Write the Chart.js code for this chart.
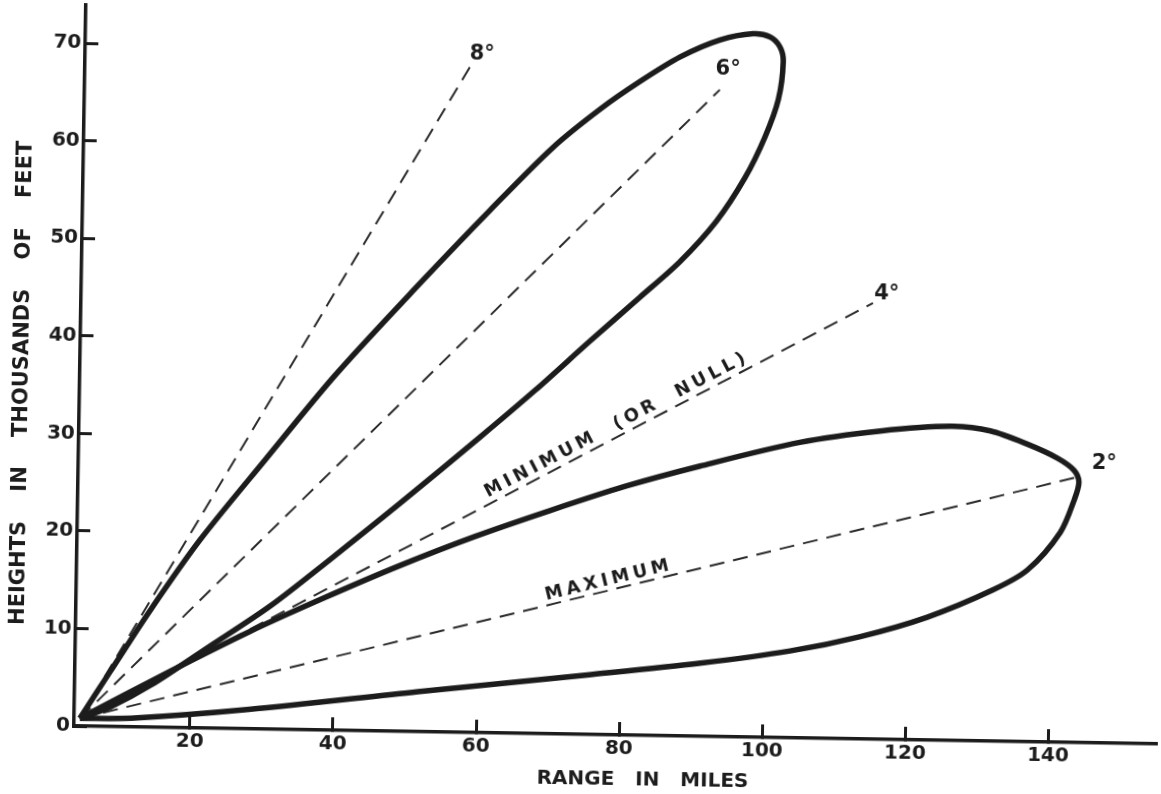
<!DOCTYPE html>
<html>
<head>
<meta charset="utf-8">
<script src="https://cdn.jsdelivr.net/npm/chart.js@4"></script>
<style>
  html, body { margin: 0; padding: 0; background: #ffffff; overflow: hidden; }
  #wrap { position: absolute; left: 0; top: 0; width: 1161px; height: 794px;
          transform: rotate(0.95deg); transform-origin: 74px 726px; }
  canvas { display: block; }
</style>
</head>
<body>
<div id="wrap"><canvas id="c" width="1161" height="794"></canvas></div>
<script>
// ---- data (range in miles, height in thousands of feet) ----
const xTickValues = [20, 40, 60, 80, 100, 120, 140];
const yTickValues = [0, 10, 20, 30, 40, 50, 60, 70];

const origin = [4.6, 0.8];

const upperLobeRange  = [4.6, 8.7, 14.2, 21.0, 29.9, 39.5, 51.2, 60.8, 69.4, 75.9, 81.4, 87.0, 92.5, 97.1, 99.5, 100.9, 101.4, 100.8, 99.0, 96.3, 92.4, 87.4, 81.9, 75.0, 67.5, 59.9, 48.9, 39.2, 30.9, 22.6, 14.4, 8.8, 4.6];
const upperLobeHeight = [0.8, 5.6, 12.0, 19.3, 27.6, 36.4, 46.0, 53.6, 60.1, 64.1, 67.0, 69.6, 71.4, 72.1, 71.8, 70.8, 69.3, 65.4, 61.5, 57.3, 52.8, 48.6, 44.9, 40.3, 35.2, 30.3, 23.4, 17.5, 12.6, 8.4, 4.3, 2.0, 0.8];

const lowerLobeRange  = [4.6, 16.4, 28.2, 38.6, 49.0, 59.4, 69.9, 80.3, 90.7, 104.6, 115.8, 125.6, 131.2, 136.4, 140.7, 143.0, 143.7, 143.1, 141.2, 136.7, 131.9, 122.8, 113.5, 103.7, 91.2, 75.4, 51.8, 28.2, 11.8, 4.6];
const lowerLobeHeight = [0.8, 5.5, 10.0, 13.6, 17.0, 20.1, 22.9, 25.5, 27.7, 30.3, 31.6, 32.2, 31.8, 30.5, 29.1, 27.9, 26.7, 24.9, 21.5, 17.6, 15.5, 12.6, 10.5, 8.9, 7.5, 6.1, 4.1, 2.0, 0.9, 0.8];

const rayLabels      = ['8°', '6°', '4°', '2°'];
const rayEndRange    = [57.6, 92.6, 114.5, 143.4];
const rayEndHeight   = [68.2, 66.3, 44.7, 27.2];
const rayLabelRange  = [59.3, 93.7, 116.4, 147.2];
const rayLabelHeight = [69.5, 68.4, 45.7, 28.6];

const zoneLabels      = ['MINIMUM (OR NULL)', 'MAXIMUM'];
const zoneLabelRange  = [79.3, 78.4];
const zoneLabelHeight = [31.4, 15.4];
const zoneLabelRay    = [2, 3];

// ---- styling ----
const INK = '#1c1c1c';
const FONT = '"DejaVu Sans", "Noto Sans", sans-serif';

const toPts = (xs, ys) => xs.map((v, i) => ({ x: v, y: ys[i] }));

const lobeStyle = {
  showLine: true, borderColor: INK, borderWidth: 5.5, pointRadius: 0,
  tension: 0.3, fill: false
};
const rayStyle = {
  showLine: true, borderColor: '#2a2a2a', borderWidth: 2, pointRadius: 0,
  borderDash: [15, 9], tension: 0, fill: false
};

const datasets = [
  Object.assign({ label: 'Upper lobe', data: toPts(upperLobeRange, upperLobeHeight) }, lobeStyle),
  Object.assign({ label: 'Lower lobe', data: toPts(lowerLobeRange, lowerLobeHeight) }, lobeStyle)
];
rayLabels.forEach((t, i) => {
  datasets.push(Object.assign({ label: t, data: [
    { x: origin[0], y: origin[1] }, { x: rayEndRange[i], y: rayEndHeight[i] }
  ] }, rayStyle));
});

const annotate = {
  id: 'annotate',
  afterDatasetsDraw(chart) {
    const { ctx } = chart;
    const sx = chart.scales.x, sy = chart.scales.y;
    ctx.save();
    ctx.fillStyle = INK;
    ctx.font = 'bold 21px ' + FONT;
    ctx.textAlign = 'center';
    ctx.textBaseline = 'middle';
    rayLabels.forEach((t, i) => {
      ctx.fillText(t, sx.getPixelForValue(rayLabelRange[i]), sy.getPixelForValue(rayLabelHeight[i]));
    });
    ctx.font = 'bold 18px ' + FONT;
    if ('letterSpacing' in ctx) ctx.letterSpacing = '4px';
    ctx.textBaseline = 'alphabetic';
    const x0 = sx.getPixelForValue(origin[0]), y0 = sy.getPixelForValue(origin[1]);
    zoneLabels.forEach((t, i) => {
      const r = zoneLabelRay[i];
      const x1 = sx.getPixelForValue(rayEndRange[r]), y1 = sy.getPixelForValue(rayEndHeight[r]);
      const ang = Math.atan2(y1 - y0, x1 - x0);
      ctx.save();
      ctx.translate(sx.getPixelForValue(zoneLabelRange[i]), sy.getPixelForValue(zoneLabelHeight[i]));
      ctx.rotate(ang);
      ctx.fillText(t.replace(/ /g, '  '), 0, 0);
      ctx.restore();
    });
    ctx.restore();
  }
};

new Chart(document.getElementById('c'), {
  type: 'scatter',
  data: { datasets },
  plugins: [annotate],
  options: {
    responsive: false,
    animation: false,
    devicePixelRatio: 1,
    layout: { padding: { left: 0, top: 5, right: 4, bottom: 0 } },
    plugins: { legend: { display: false }, tooltip: { enabled: false } },
    scales: {
      x: {
        type: 'linear', position: 'bottom', min: 3.8, max: 155.2,
        afterBuildTicks: s => { s.ticks = xTickValues.map(v => ({ value: v })); },
        afterFit: s => { s.height = 68; s.paddingLeft = 0; s.paddingRight = 0; },
        grid: { drawOnChartArea: false, drawTicks: true, tickLength: -13, tickWidth: 3, tickColor: INK },
        border: { display: true, width: 3.5, color: INK },
        ticks: { color: INK, padding: 15, font: { family: FONT, size: 20, weight: 'bold' },
                 callback: v => String(v) },
        title: { display: true, text: '        RANGE   IN   MILES', color: INK,
                 font: { family: FONT, size: 20, weight: 'bold' }, padding: { top: 0, bottom: 11 } }
      },
      y: {
        type: 'linear', position: 'left', min: 0, max: 73.9,
        afterBuildTicks: s => { s.ticks = yTickValues.map(v => ({ value: v })); },
        afterFit: s => { s.width = 74; s.paddingTop = 0; s.paddingBottom = 0; },
        grid: { drawOnChartArea: false, drawTicks: true, tickLength: -13, tickWidth: 3, tickColor: INK },
        border: { display: true, width: 3.5, color: INK },
        ticks: { color: INK, padding: 17, font: { family: FONT, size: 20, weight: 'bold' },
                 callback: v => String(v) },
        title: { display: true, text: 'HEIGHTS    IN    THOUSANDS    OF    FEET     ', color: INK,
                 font: { family: FONT, size: 21, weight: 'bold' }, padding: { top: 4, bottom: 0 } }
      }
    }
  }
});
</script>
</body>
</html>
